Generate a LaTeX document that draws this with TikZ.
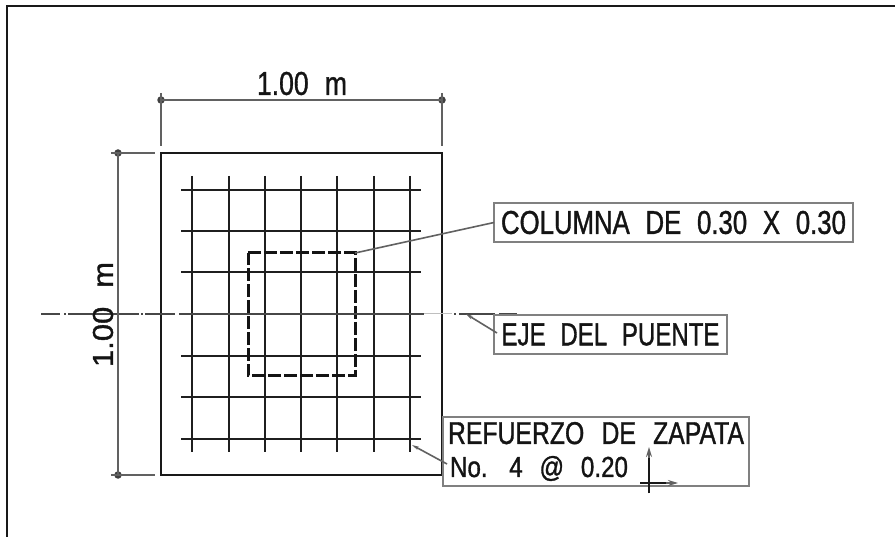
\documentclass[tikz,border=0pt]{standalone}
\usepackage{fontspec}
\usetikzlibrary{arrows.meta}
\newfontfamily\cadfont[FakeStretch=0.84,WordSpace=2.2,FakeBold=1.1]{Liberation Sans}
\newcommand{\cadfit}[3]{\resizebox{#1pt}{#2pt}{#3}}
\tikzset{
  x=1pt,y=-1pt,
  frameline/.style={line width=2.4pt,black!90},
  zapata/.style={draw=black!90,line width=2.5pt,minimum width=281pt,minimum height=322pt,inner sep=0,outer sep=0,anchor=north west},
  bar/.style={line width=2.5pt,black!88},
  columna/.style={line width=3pt,black!92,dash pattern=on 13pt off 3pt},
  dimline/.style={line width=1.6pt,black!62},
  dimdot/.style={circle,fill=black!75,inner sep=0,minimum size=7.5pt},
  axisline/.style={line width=1.7pt,black!72,dash pattern=on 19pt off 4pt on 2pt off 2pt on 71pt off 2pt on 2pt off 2pt on 30pt off 4pt on 245pt off 30pt on 2pt off 3pt on 36pt off 4pt on 20pt off 0pt},
  axisfaint/.style={line width=1pt,black!25},
  leader/.style={line width=1.6pt,black!62},
  leaderarrow/.style={leader,-{Stealth[length=7pt,width=3.5pt]}},
  labelbox/.style={draw=black!50,line width=1.2pt,inner sep=0,outer sep=0,anchor=north west,font=\cadfont\fontsize{32}{33}\selectfont,text=black!92},
  cadtext/.style={font=\cadfont\fontsize{31}{33}\selectfont,inner sep=0,text=black!92},
  ucsline/.style={line width=2.6pt,black!90},
  ucsarrow/.style={line width=1.6pt,black!62,-{Stealth[length=10pt,width=6pt]}}
}
\begin{document}
\begin{tikzpicture}
\useasboundingbox (0,0) rectangle (895,537);
\fill[white] (0,0) rectangle (895,537);
% frame
\coordinate (fa) at (7,537);
\coordinate (fb) at (7,6);
\coordinate (fc) at (895,6);
\draw[frameline] (fa) -- (fb) -- (fc);
% footing
\node[zapata] (zap) at (161,153) {};
% bars
\foreach \x in {192,229,265,301,337,374,410} \draw[bar] (\x,176) -- (\x,452);
\foreach \y in {190,231,272,314,356,397,439} \draw[bar] (181,\y) -- (421,\y);
% column
\draw[columna] (248,253) -- (355,253) -- (355,376) -- (248,376) -- cycle;
% axis
\coordinate (axa) at (41,314);
\coordinate (axb) at (517,314);
\coordinate (axc) at (421,314);
\coordinate (axd) at (452,314);
\draw[axisfaint] (axc) -- (axd);
\draw[axisline] (axa) -- (axb);
% dimensions
\node[dimdot] (dh1) at (161,100) {};
\node[dimdot] (dh2) at (442,100) {};
\node[dimdot] (dv1) at (118,153) {};
\node[dimdot] (dv2) at (118,475) {};
\draw[dimline] (dh1.center) -- (dh2.center);
\draw[dimline] (dv1.center) -- (dv2.center);
\coordinate (e1a) at (161,93); \coordinate (e1b) at (161,146);
\coordinate (e2a) at (442,93); \coordinate (e2b) at (442,146);
\coordinate (e3a) at (111,153); \coordinate (e3b) at (155,153);
\coordinate (e4a) at (111,475); \coordinate (e4b) at (155,475);
\draw[dimline] (e1a) -- (e1b);
\draw[dimline] (e2a) -- (e2b);
\draw[dimline] (e3a) -- (e3b);
\draw[dimline] (e4a) -- (e4b);
\node[cadtext] (dimh) at (302,83.5) {\cadfit{90}{23}{1.00 m}};
\node[cadtext,rotate=90] (dimv) at (103,314.5) {\cadfit{105}{20}{1.00 m}};
% labels
\node[labelbox,minimum width=359pt,minimum height=39pt] (col) at (494,203) {\cadfit{345}{23}{COLUMNA DE 0.30 X 0.30}};
\node[labelbox,minimum width=233pt,minimum height=39pt] (eje) at (494,315) {\cadfit{218}{22}{EJE DEL PUENTE}};
\node[labelbox,minimum width=306pt,minimum height=69pt,text width=296pt,align=left] (ref) at (443,417) {\cadfit{296}{22}{REFUERZO\hspace{8pt} DE\hspace{8pt} ZAPATA}\\\hspace{2pt}\cadfit{178}{21}{No.\hspace{8pt} 4\hspace{8pt} @\hspace{8pt} 0.20}};
% leaders
\coordinate (colp) at (355,253);
\coordinate (ejep) at (466,314);
\coordinate (refp) at (412,445);
\coordinate (ejes) at (497,333);
\coordinate (refs) at (447,464);
\draw[leader] (col.west) -- (colp);
\draw[leaderarrow] (ejes) -- (ejep);
\draw[leaderarrow] (refs) -- (refp);
% ucs icon
\coordinate (ua) at (649,493); \coordinate (ub) at (649,447);
\coordinate (uc) at (640,483); \coordinate (ud) at (678,483);
\coordinate (ue) at (649,458); \coordinate (uf) at (666,483);
\draw[ucsarrow] (ua) -- (ub);
\draw[ucsarrow] (uc) -- (ud);
\draw[ucsline] (ua) -- (ue);
\draw[ucsline] (uc) -- (uf);
\end{tikzpicture}
\end{document}
